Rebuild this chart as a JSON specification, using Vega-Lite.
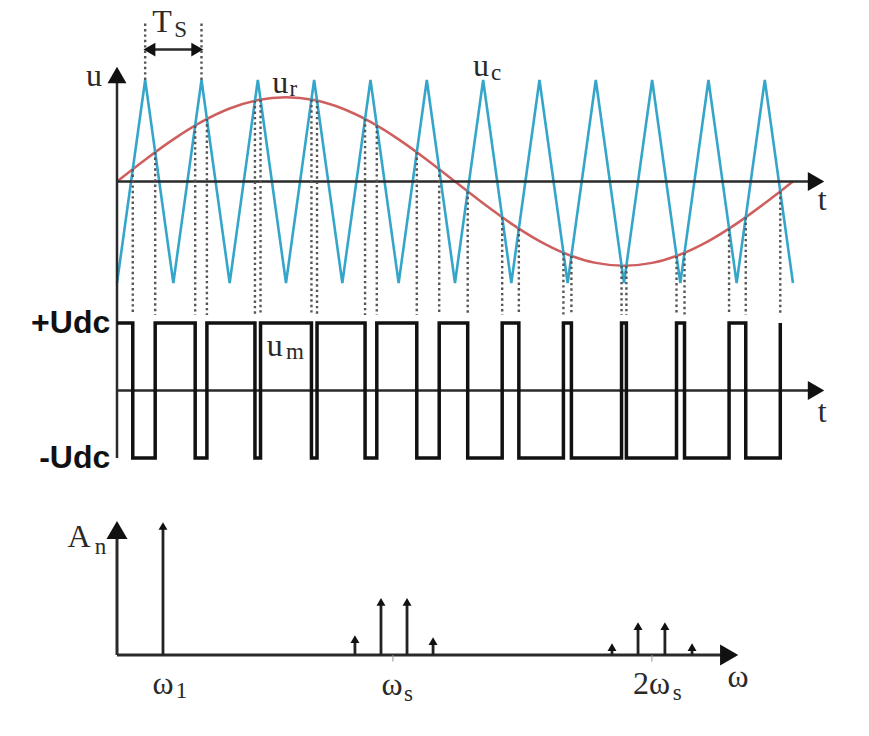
{
  "$schema": "https://vega.github.io/schema/vega-lite/v6.json",
  "width": 869,
  "height": 736,
  "padding": 0,
  "autosize": {"type": "none"},
  "background": "white",
  "config": {"view": {"stroke": null}},
  "datasets": {
    "carrier": [
      {"t": 0, "u": -1}, {"t": 0.5, "u": 1}, {"t": 1, "u": -1}, {"t": 1.5, "u": 1},
      {"t": 2, "u": -1}, {"t": 2.5, "u": 1}, {"t": 3, "u": -1}, {"t": 3.5, "u": 1},
      {"t": 4, "u": -1}, {"t": 4.5, "u": 1}, {"t": 5, "u": -1}, {"t": 5.5, "u": 1},
      {"t": 6, "u": -1}, {"t": 6.5, "u": 1}, {"t": 7, "u": -1}, {"t": 7.5, "u": 1},
      {"t": 8, "u": -1}, {"t": 8.5, "u": 1}, {"t": 9, "u": -1}, {"t": 9.5, "u": 1},
      {"t": 10, "u": -1}, {"t": 10.5, "u": 1}, {"t": 11, "u": -1}, {"t": 11.5, "u": 1},
      {"t": 12, "u": -1}
    ],
    "sine": [
      {"t": 0, "u": 0}, {"t": 0.5, "u": 0.215}, {"t": 1, "u": 0.415}, {"t": 1.5, "u": 0.587},
      {"t": 2, "u": 0.719}, {"t": 2.5, "u": 0.802}, {"t": 3, "u": 0.83}, {"t": 3.5, "u": 0.802},
      {"t": 4, "u": 0.719}, {"t": 4.5, "u": 0.587}, {"t": 5, "u": 0.415}, {"t": 5.5, "u": 0.215},
      {"t": 6, "u": 0}, {"t": 6.5, "u": -0.215}, {"t": 7, "u": -0.415}, {"t": 7.5, "u": -0.587},
      {"t": 8, "u": -0.719}, {"t": 8.5, "u": -0.802}, {"t": 9, "u": -0.83}, {"t": 9.5, "u": -0.802},
      {"t": 10, "u": -0.719}, {"t": 10.5, "u": -0.587}, {"t": 11, "u": -0.415}, {"t": 11.5, "u": -0.215},
      {"t": 12, "u": 0}
    ],
    "cross": [
      {"t": 0.28, "u": 0.121, "u2": -1.315}, {"t": 0.678, "u": 0.289, "u2": -1.315}, {"t": 1.388, "u": 0.551, "u2": -1.315}, {"t": 1.596, "u": 0.616, "u2": -1.315},
      {"t": 2.449, "u": 0.796, "u2": -1.315}, {"t": 2.548, "u": 0.807, "u2": -1.315}, {"t": 3.452, "u": 0.807, "u2": -1.315}, {"t": 3.551, "u": 0.796, "u2": -1.315},
      {"t": 4.404, "u": 0.616, "u2": -1.315}, {"t": 4.612, "u": 0.551, "u2": -1.315}, {"t": 5.322, "u": 0.289, "u2": -1.315}, {"t": 5.72, "u": 0.121, "u2": -1.315},
      {"t": 6.226, "u": -0.098, "u2": -1.315}, {"t": 6.838, "u": -0.353, "u2": -1.315}, {"t": 7.134, "u": -0.464, "u2": -1.315}, {"t": 7.925, "u": -0.702, "u2": -1.315},
      {"t": 8.067, "u": -0.733, "u2": -1.315}, {"t": 8.957, "u": -0.83, "u2": -1.315}, {"t": 9.043, "u": -0.83, "u2": -1.315}, {"t": 9.933, "u": -0.734, "u2": -1.315},
      {"t": 10.075, "u": -0.702, "u2": -1.315}, {"t": 10.866, "u": -0.464, "u2": -1.315}, {"t": 11.162, "u": -0.353, "u2": -1.315}, {"t": 11.775, "u": -0.098, "u2": -1.315},
      {"t": 0.5, "u": 1.0, "u2": 1.58}, {"t": 1.5, "u": 1.0, "u2": 1.58}
    ],
    "pwm": [
      {"t": 0, "v": 1}, {"t": 0.28, "v": -1}, {"t": 0.678, "v": 1}, {"t": 1.388, "v": -1},
      {"t": 1.596, "v": 1}, {"t": 2.449, "v": -1}, {"t": 2.548, "v": 1}, {"t": 3.452, "v": -1},
      {"t": 3.551, "v": 1}, {"t": 4.404, "v": -1}, {"t": 4.612, "v": 1}, {"t": 5.322, "v": -1},
      {"t": 5.72, "v": 1}, {"t": 6.226, "v": -1}, {"t": 6.838, "v": 1}, {"t": 7.134, "v": -1},
      {"t": 7.925, "v": 1}, {"t": 8.067, "v": -1}, {"t": 8.957, "v": 1}, {"t": 9.043, "v": -1},
      {"t": 9.933, "v": 1}, {"t": 10.075, "v": -1}, {"t": 10.866, "v": 1}, {"t": 11.162, "v": -1},
      {"t": 11.775, "v": 1}
    ],
    "axesA": [
      {"t": 0, "u": 0.98, "t2": 0, "u2": -2.724},
      {"t": 0, "u": 0, "t2": 12.3, "u2": 0},
      {"t": 0.6, "u": 1.3, "t2": 1.4, "u2": 1.3}
    ],
    "axesB": [
      {"t": 0, "v": 0, "t2": 12.3, "v2": 0}
    ],
    "arrowsA": [
      {"t": 0, "u": 1.05, "dir": "triangle-up", "s": "big"},
      {"t": 12.41, "u": 0, "dir": "triangle-right", "s": "big"},
      {"t": 0.575, "u": 1.3, "dir": "triangle-left", "s": "small"},
      {"t": 1.425, "u": 1.3, "dir": "triangle-right", "s": "small"}
    ],
    "arrowsB": [
      {"t": 12.41, "v": 0, "dir": "triangle-right"}
    ],
    "textA": [
      {"t": -0.41, "u": 1.04, "label": "u", "kind": "main"},
      {"t": 0.8, "u": 1.575, "label": "T", "kind": "main"},
      {"t": 1.13, "u": 1.49, "label": "S", "kind": "sub"},
      {"t": 2.9, "u": 0.97, "label": "u", "kind": "main"},
      {"t": 3.13, "u": 0.91, "label": "r", "kind": "sub"},
      {"t": 6.46, "u": 1.14, "label": "u", "kind": "main"},
      {"t": 6.73, "u": 1.07, "label": "c", "kind": "sub"},
      {"t": 12.52, "u": -0.18, "label": "t", "kind": "main"}
    ],
    "textB": [
      {"t": 2.8, "v": 0.66, "label": "u", "kind": "main"},
      {"t": 3.16, "v": 0.57, "label": "m", "kind": "sub"},
      {"t": 12.52, "v": -0.32, "label": "t", "kind": "main"}
    ],
    "udc": [
      {"t": -0.12, "v": 1, "label": "+Udc"},
      {"t": -0.12, "v": -1, "label": "-Udc"}
    ],
    "axesC": [
      {"w": 0, "a": 0, "w2": 0, "a2": 0.88},
      {"w": 0, "a": 0, "w2": 21.8, "a2": 0}
    ],
    "arrowsC": [
      {"w": 0, "a": 0.94, "dir": "triangle-up"},
      {"w": 22.1, "a": 0, "dir": "triangle-right"}
    ],
    "spectrum": [
      {"w": 1.66, "a": 0.97, "base": 0},
      {"w": 8.59, "a": 0.12, "base": 0}, {"w": 9.53, "a": 0.4, "base": 0}, {"w": 10.47, "a": 0.4, "base": 0}, {"w": 11.41, "a": 0.105, "base": 0},
      {"w": 17.87, "a": 0.06, "base": 0}, {"w": 18.81, "a": 0.218, "base": 0}, {"w": 19.78, "a": 0.218, "base": 0}, {"w": 20.76, "a": 0.06, "base": 0}
    ],
    "ticksC": [{"w": 9.96, "a": 0, "a2": -0.05}, {"w": 19.31, "a": 0, "a2": -0.05}],
    "textC": [
      {"w": -1.37, "a": 0.887, "label": "A", "kind": "main"},
      {"w": -0.6, "a": 0.81, "label": "n", "kind": "sub"},
      {"w": 1.66, "a": -0.218, "label": "ω", "kind": "main"},
      {"w": 2.33, "a": -0.27, "label": "1", "kind": "sub"},
      {"w": 9.93, "a": -0.226, "label": "ω", "kind": "main"},
      {"w": 10.52, "a": -0.29, "label": "s", "kind": "sub"},
      {"w": 19.3, "a": -0.218, "label": "2ω", "kind": "main"},
      {"w": 20.22, "a": -0.286, "label": "s", "kind": "sub"},
      {"w": 22.42, "a": -0.165, "label": "ω", "kind": "main"}
    ]
  },
  "layer": [
    {
      "data": {"name": "sine"},
      "mark": {"type": "line", "color": "#cf5f5f", "strokeWidth": 2.5, "interpolate": "monotone"},
      "encoding": {
        "x": {"field": "t", "type": "quantitative", "scale": {"domain": [-2.077, 13.35], "nice": false, "zero": false}, "axis": null},
        "y": {"field": "u", "type": "quantitative", "scale": {"domain": [-5.463, 1.788], "nice": false, "zero": false}, "axis": null}
      }
    },
    {
      "data": {"name": "carrier"},
      "mark": {"type": "line", "color": "#35a6ca", "strokeWidth": 2.6},
      "encoding": {
        "x": {"field": "t", "type": "quantitative", "scale": {"domain": [-2.077, 13.35], "nice": false, "zero": false}, "axis": null},
        "y": {"field": "u", "type": "quantitative", "scale": {"domain": [-5.463, 1.788], "nice": false, "zero": false}, "axis": null}
      }
    },
    {
      "data": {"name": "axesA"},
      "mark": {"type": "rule", "color": "#2a2a2a", "strokeWidth": 2.5},
      "encoding": {
        "x": {"field": "t", "type": "quantitative", "scale": {"domain": [-2.077, 13.35], "nice": false, "zero": false}, "axis": null},
        "x2": {"field": "t2"},
        "y": {"field": "u", "type": "quantitative", "scale": {"domain": [-5.463, 1.788], "nice": false, "zero": false}, "axis": null},
        "y2": {"field": "u2"}
      }
    },
    {
      "data": {"name": "arrowsA"},
      "transform": [{"filter": "datum.s === 'big'"}],
      "mark": {"type": "point", "filled": true, "opacity": 1, "size": 360, "color": "#111"},
      "encoding": {
        "x": {"field": "t", "type": "quantitative", "scale": {"domain": [-2.077, 13.35], "nice": false, "zero": false}, "axis": null},
        "y": {"field": "u", "type": "quantitative", "scale": {"domain": [-5.463, 1.788], "nice": false, "zero": false}, "axis": null},
        "shape": {"field": "dir", "type": "nominal", "scale": null, "legend": null}
      }
    },
    {
      "data": {"name": "arrowsA"},
      "transform": [{"filter": "datum.s === 'small'"}],
      "mark": {"type": "point", "filled": true, "opacity": 1, "size": 190, "color": "#111"},
      "encoding": {
        "x": {"field": "t", "type": "quantitative", "scale": {"domain": [-2.077, 13.35], "nice": false, "zero": false}, "axis": null},
        "y": {"field": "u", "type": "quantitative", "scale": {"domain": [-5.463, 1.788], "nice": false, "zero": false}, "axis": null},
        "shape": {"field": "dir", "type": "nominal", "scale": null, "legend": null}
      }
    },
    {
      "data": {"name": "cross"},
      "mark": {"type": "rule", "color": "#555", "strokeWidth": 2.4, "strokeDash": [2.4, 3]},
      "encoding": {
        "x": {"field": "t", "type": "quantitative", "scale": {"domain": [-2.077, 13.35], "nice": false, "zero": false}, "axis": null},
        "y": {"field": "u", "type": "quantitative", "scale": {"domain": [-5.463, 1.788], "nice": false, "zero": false}, "axis": null},
        "y2": {"field": "u2"}
      }
    },
    {
      "data": {"name": "textA"},
      "transform": [{"filter": "datum.kind === 'main'"}],
      "mark": {"type": "text", "font": "Liberation Serif", "fontSize": 32, "color": "#2a2a2a", "align": "center", "baseline": "middle"},
      "encoding": {
        "x": {"field": "t", "type": "quantitative", "scale": {"domain": [-2.077, 13.35], "nice": false, "zero": false}, "axis": null},
        "y": {"field": "u", "type": "quantitative", "scale": {"domain": [-5.463, 1.788], "nice": false, "zero": false}, "axis": null},
        "text": {"field": "label", "type": "nominal"}
      }
    },
    {
      "data": {"name": "textA"},
      "transform": [{"filter": "datum.kind === 'sub'"}],
      "mark": {"type": "text", "font": "Liberation Serif", "fontSize": 23, "color": "#2a2a2a", "align": "center", "baseline": "middle"},
      "encoding": {
        "x": {"field": "t", "type": "quantitative", "scale": {"domain": [-2.077, 13.35], "nice": false, "zero": false}, "axis": null},
        "y": {"field": "u", "type": "quantitative", "scale": {"domain": [-5.463, 1.788], "nice": false, "zero": false}, "axis": null},
        "text": {"field": "label", "type": "nominal"}
      }
    },
    {
      "data": {"name": "axesB"},
      "mark": {"type": "rule", "color": "#2a2a2a", "strokeWidth": 2.5},
      "encoding": {
        "x": {"field": "t", "type": "quantitative", "scale": {"domain": [-2.077, 13.35], "nice": false, "zero": false}, "axis": null},
        "x2": {"field": "t2"},
        "y": {"field": "v", "type": "quantitative", "scale": {"domain": [-5.119, 5.785], "nice": false, "zero": false}, "axis": null},
        "y2": {"field": "v2"}
      }
    },
    {
      "data": {"name": "arrowsB"},
      "mark": {"type": "point", "filled": true, "opacity": 1, "size": 360, "color": "#111"},
      "encoding": {
        "x": {"field": "t", "type": "quantitative", "scale": {"domain": [-2.077, 13.35], "nice": false, "zero": false}, "axis": null},
        "y": {"field": "v", "type": "quantitative", "scale": {"domain": [-5.119, 5.785], "nice": false, "zero": false}, "axis": null},
        "shape": {"field": "dir", "type": "nominal", "scale": null, "legend": null}
      }
    },
    {
      "data": {"name": "pwm"},
      "mark": {"type": "line", "color": "#111", "strokeWidth": 3.5, "interpolate": "step-after", "strokeJoin": "miter"},
      "encoding": {
        "x": {"field": "t", "type": "quantitative", "scale": {"domain": [-2.077, 13.35], "nice": false, "zero": false}, "axis": null},
        "y": {"field": "v", "type": "quantitative", "scale": {"domain": [-5.119, 5.785], "nice": false, "zero": false}, "axis": null}
      }
    },
    {
      "data": {"name": "udc"},
      "mark": {"type": "text", "font": "Liberation Sans", "fontWeight": "bold", "fontSize": 32, "color": "#111", "align": "right", "baseline": "middle"},
      "encoding": {
        "x": {"field": "t", "type": "quantitative", "scale": {"domain": [-2.077, 13.35], "nice": false, "zero": false}, "axis": null},
        "y": {"field": "v", "type": "quantitative", "scale": {"domain": [-5.119, 5.785], "nice": false, "zero": false}, "axis": null},
        "text": {"field": "label", "type": "nominal"}
      }
    },
    {
      "data": {"name": "textB"},
      "transform": [{"filter": "datum.kind === 'main'"}],
      "mark": {"type": "text", "font": "Liberation Serif", "fontSize": 32, "color": "#2a2a2a", "align": "center", "baseline": "middle"},
      "encoding": {
        "x": {"field": "t", "type": "quantitative", "scale": {"domain": [-2.077, 13.35], "nice": false, "zero": false}, "axis": null},
        "y": {"field": "v", "type": "quantitative", "scale": {"domain": [-5.119, 5.785], "nice": false, "zero": false}, "axis": null},
        "text": {"field": "label", "type": "nominal"}
      }
    },
    {
      "data": {"name": "textB"},
      "transform": [{"filter": "datum.kind === 'sub'"}],
      "mark": {"type": "text", "font": "Liberation Serif", "fontSize": 23, "color": "#2a2a2a", "align": "center", "baseline": "middle"},
      "encoding": {
        "x": {"field": "t", "type": "quantitative", "scale": {"domain": [-2.077, 13.35], "nice": false, "zero": false}, "axis": null},
        "y": {"field": "v", "type": "quantitative", "scale": {"domain": [-5.119, 5.785], "nice": false, "zero": false}, "axis": null},
        "text": {"field": "label", "type": "nominal"}
      }
    },
    {
      "data": {"name": "axesC"},
      "mark": {"type": "rule", "color": "#2a2a2a", "strokeWidth": 3},
      "encoding": {
        "x": {"field": "w", "type": "quantitative", "scale": {"domain": [-4.224, 27.148], "nice": false, "zero": false}, "axis": null},
        "x2": {"field": "w2"},
        "y": {"field": "a", "type": "quantitative", "scale": {"domain": [-0.609, 4.925], "nice": false, "zero": false}, "axis": null},
        "y2": {"field": "a2"}
      }
    },
    {
      "data": {"name": "arrowsC"},
      "mark": {"type": "point", "filled": true, "opacity": 1, "size": 440, "color": "#111"},
      "encoding": {
        "x": {"field": "w", "type": "quantitative", "scale": {"domain": [-4.224, 27.148], "nice": false, "zero": false}, "axis": null},
        "y": {"field": "a", "type": "quantitative", "scale": {"domain": [-0.609, 4.925], "nice": false, "zero": false}, "axis": null},
        "shape": {"field": "dir", "type": "nominal", "scale": null, "legend": null}
      }
    },
    {
      "data": {"name": "ticksC"},
      "mark": {"type": "rule", "color": "#999", "strokeWidth": 1},
      "encoding": {
        "x": {"field": "w", "type": "quantitative", "scale": {"domain": [-4.224, 27.148], "nice": false, "zero": false}, "axis": null},
        "y": {"field": "a", "type": "quantitative", "scale": {"domain": [-0.609, 4.925], "nice": false, "zero": false}, "axis": null},
        "y2": {"field": "a2"}
      }
    },
    {
      "data": {"name": "spectrum"},
      "mark": {"type": "rule", "color": "#222", "strokeWidth": 2.8},
      "encoding": {
        "x": {"field": "w", "type": "quantitative", "scale": {"domain": [-4.224, 27.148], "nice": false, "zero": false}, "axis": null},
        "y": {"field": "base", "type": "quantitative", "scale": {"domain": [-0.609, 4.925], "nice": false, "zero": false}, "axis": null},
        "y2": {"field": "a"}
      }
    },
    {
      "data": {"name": "spectrum"},
      "mark": {"type": "point", "shape": "triangle-up", "filled": true, "opacity": 1, "size": 80, "color": "#111"},
      "encoding": {
        "x": {"field": "w", "type": "quantitative", "scale": {"domain": [-4.224, 27.148], "nice": false, "zero": false}, "axis": null},
        "y": {"field": "a", "type": "quantitative", "scale": {"domain": [-0.609, 4.925], "nice": false, "zero": false}, "axis": null}
      }
    },
    {
      "data": {"name": "textC"},
      "transform": [{"filter": "datum.kind === 'main'"}],
      "mark": {"type": "text", "font": "Liberation Serif", "fontSize": 32, "color": "#2a2a2a", "align": "center", "baseline": "middle"},
      "encoding": {
        "x": {"field": "w", "type": "quantitative", "scale": {"domain": [-4.224, 27.148], "nice": false, "zero": false}, "axis": null},
        "y": {"field": "a", "type": "quantitative", "scale": {"domain": [-0.609, 4.925], "nice": false, "zero": false}, "axis": null},
        "text": {"field": "label", "type": "nominal"}
      }
    },
    {
      "data": {"name": "textC"},
      "transform": [{"filter": "datum.kind === 'sub'"}],
      "mark": {"type": "text", "font": "Liberation Serif", "fontSize": 23, "color": "#2a2a2a", "align": "center", "baseline": "middle"},
      "encoding": {
        "x": {"field": "w", "type": "quantitative", "scale": {"domain": [-4.224, 27.148], "nice": false, "zero": false}, "axis": null},
        "y": {"field": "a", "type": "quantitative", "scale": {"domain": [-0.609, 4.925], "nice": false, "zero": false}, "axis": null},
        "text": {"field": "label", "type": "nominal"}
      }
    }
  ],
  "resolve": {"scale": {"x": "independent", "y": "independent"}}
}
